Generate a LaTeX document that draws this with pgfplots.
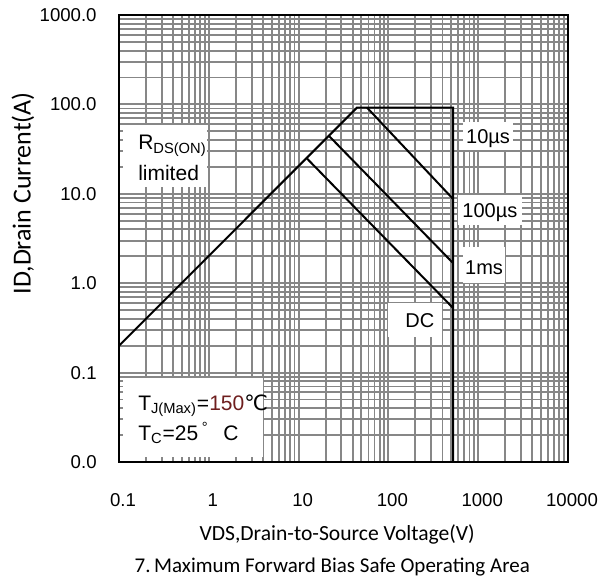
\documentclass[border=0pt]{standalone}
\usepackage{fontspec}
\setmainfont{Liberation Sans}
\newfontfamily\carlito{Carlito}
\newfontfamily\dejavu{DejaVu Sans}
\usepackage{pgfplots}
\pgfplotsset{compat=1.18}
\definecolor{maroon}{HTML}{6E1E1E}

\begin{document}
\begin{tikzpicture}
\begin{axis}[
  name=ax,
  xmode=log, ymode=log,
  scale only axis, width=224.5pt, height=223.5pt,
  xmin=0.1, xmax=10000, ymin=0.01, ymax=1000,
  xtick={0.1,1,10,100,1000,10000},
  xticklabels={0.1,1,10,100,1000,10000},
  ytick={0.01,0.1,1,10,100,1000},
  yticklabels={0.0,0.1,1.0,10.0,100.0,1000.0},
  minor xtick={0.2,0.3,0.4,0.5,0.6,0.7,0.8,0.9,2,3,...,9,20,30,...,90,200,300,...,900,2000,3000,...,9000},
  minor ytick={0.02,0.03,0.04,0.05,0.06,0.07,0.08,0.09,0.2,0.3,0.4,0.5,0.6,0.7,0.8,0.9,2,3,...,9,20,30,...,90,200,300,...,900},
  major tick length=0pt, minor tick length=0pt,
  grid=both,
  major grid style={black!47, line width=0.95pt},
  minor grid style={black!47, line width=0.95pt},
  axis line style={black, line width=0.9pt},
  ticklabel style={font=\fontsize{9.3}{10}\selectfont, inner sep=0pt},
  xticklabel style={anchor=center, yshift=-19pt, xshift=2pt},
  yticklabel style={anchor=east, xshift=-11pt},
  clip=false,
]
% SOA boundaries
\addplot[black, line width=1pt, line join=miter] coordinates {(0.1,0.2) (44.7,92) (525,92) (525,0.01)};
\addplot[black, line width=1pt] coordinates {(57.8,92) (525,8.75)};
\addplot[black, line width=1pt] coordinates {(21.8,44.4) (525,1.68)};
\addplot[black, line width=1pt] coordinates {(12.4,24.8) (525,0.528)};

% white label boxes
\fill[white] (rel axis cs:0.008,0.615) rectangle (rel axis cs:0.196,0.754);
\fill[white] (rel axis cs:0.008,0.011) rectangle (rel axis cs:0.321,0.188);
\fill[white] (rel axis cs:0.766,0.698) rectangle (rel axis cs:0.878,0.761);
\fill[white] (rel axis cs:0.755,0.530) rectangle (rel axis cs:0.898,0.597);
\fill[white] (rel axis cs:0.766,0.400) rectangle (rel axis cs:0.860,0.481);
\fill[white] (rel axis cs:0.599,0.280) rectangle (rel axis cs:0.719,0.356);

\node[anchor=base west, inner sep=0pt, font=\fontsize{10.5}{12}\selectfont] at (rel axis cs:0.042,0.698) {R\textsubscript{DS(ON)}};
\node[anchor=base west, inner sep=0pt, font=\fontsize{10.5}{12}\selectfont] at (rel axis cs:0.042,0.629) {limited};
\node[anchor=base west, inner sep=0pt, font=\fontsize{10.5}{12}\selectfont] at (rel axis cs:0.042,0.116) {T\textsubscript{J(Max)}={\color{maroon}150}{\dejavu ℃}};
\node[anchor=base west, inner sep=0pt, font=\fontsize{10.5}{12}\selectfont] at (rel axis cs:0.042,0.049) {T\textsubscript{C}=25\,\textsuperscript{°}\hspace{0.7em}C};

\node[anchor=base, inner sep=0pt, font=\fontsize{10}{12}\selectfont] at (rel axis cs:0.822,0.713) {10µs};
\node[anchor=base, inner sep=0pt, font=\fontsize{10}{12}\selectfont] at (rel axis cs:0.826,0.547) {100µs};
\node[anchor=base, inner sep=0pt, font=\fontsize{10}{12}\selectfont] at (rel axis cs:0.813,0.419) {1ms};
\node[anchor=base, inner sep=0pt, font=\fontsize{10}{12}\selectfont] at (rel axis cs:0.670,0.301) {DC};

% axis titles
\node[font=\carlito\fontsize{10.8}{12}\selectfont] at (rel axis cs:0.486,-0.163) {VDS,Drain-to-Source Voltage(V)};
\node[font=\carlito\fontsize{10.5}{12}\selectfont] at (rel axis cs:0.475,-0.235) {7.\,Maximum Forward Bias Safe Operating Area};
\node[rotate=90, font=\carlito\fontsize{13}{14}\selectfont] at (rel axis cs:-0.214,0.601) {ID,Drain Current(A)};
\end{axis}
\pgfresetboundingbox
\path ([xshift=-59.5pt,yshift=-61.5pt]ax.south west) rectangle ([xshift=16pt,yshift=7.5pt]ax.north east);
\end{tikzpicture}
\end{document}
